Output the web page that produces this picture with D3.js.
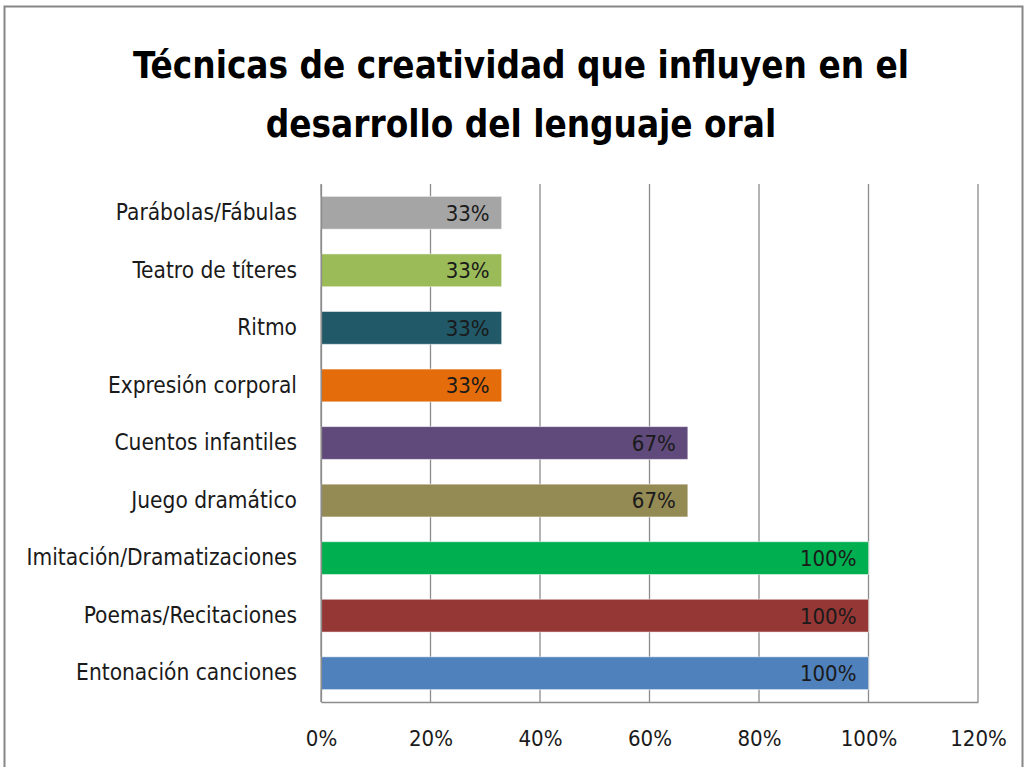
<!DOCTYPE html>
<html>
<head>
<meta charset="utf-8">
<script src="https://cdn.jsdelivr.net/npm/d3@7"></script>
<style>
  body { margin: 0; background: #fff; }
  text { font-family: "Liberation Sans Narrow", "DejaVu Sans Condensed", "Open Sans", sans-serif; }
</style>
</head>
<body>
<div id="chart"></div>
<script>
// data, top to bottom as drawn
var categories = ["Parábolas/Fábulas", "Teatro de títeres", "Ritmo", "Expresión corporal",
  "Cuentos infantiles", "Juego dramático ", "Imitación/Dramatizaciones",
  "Poemas/Recitaciones", "Entonación canciones"];
var values = [0.33, 0.33, 0.33, 0.33, 0.67, 0.67, 1.0, 1.0, 1.0];
var barColors = ["#a5a5a5", "#9bbb59", "#215968", "#e46c0a", "#604a7b",
  "#948a54", "#00b050", "#953735", "#4f81bd"];
var xTicks = [0, 0.2, 0.4, 0.6, 0.8, 1.0, 1.2];
var titleLines = ["Técnicas de creatividad que influyen en el", "desarrollo del lenguaje oral"];

var svgWidth = 1030;
var svgHeight = 767;
var margin = { top: 184, right: 52, bottom: 65, left: 321 };
var width = svgWidth - margin.left - margin.right;
var height = svgHeight - margin.top - margin.bottom;

var svg = d3.select("#chart").append("svg")
  .attr("width", svgWidth)
  .attr("height", svgHeight);

// outer chart border
svg.append("rect")
  .attr("x", 4.5).attr("y", 6.5)
  .attr("width", 1018).attr("height", 780)
  .attr("fill", "none")
  .attr("stroke", "#868686")
  .attr("stroke-width", 2);

svg.selectAll("text.title").data(titleLines).enter()
  .append("text")
  .attr("class", "title")
  .attr("x", 521)
  .attr("y", (d, i) => 78 + i * 59)
  .attr("text-anchor", "middle")
  .attr("font-size", "36.5px")
  .attr("font-weight", "bold")
  .text(d => d);

var chartGroup = svg.append("g")
  .attr("transform", `translate(${margin.left}, ${margin.top})`);

var x = d3.scaleLinear().domain([0, 1.2]).range([0, width]);
var y = d3.scaleBand().domain(categories).range([0, height]).paddingInner(0.43).paddingOuter(0.215);

// gridlines
chartGroup.selectAll("line.grid").data(xTicks).enter()
  .append("line")
  .attr("x1", d => x(d)).attr("x2", d => x(d))
  .attr("y1", 0).attr("y2", height)
  .attr("stroke", "#8c8c8c")
  .attr("stroke-width", 1.3);

// bars
chartGroup.selectAll("rect.bar").data(values).enter()
  .append("rect")
  .attr("x", 0)
  .attr("y", (d, i) => y(categories[i]))
  .attr("width", d => x(d))
  .attr("height", y.bandwidth())
  .attr("fill", (d, i) => barColors[i])
  .attr("stroke", "rgba(255,255,255,0.5)")
  .attr("stroke-width", 1);

// data labels
var fmt = d3.format(".0%");
chartGroup.selectAll("text.lbl").data(values).enter()
  .append("text")
  .attr("x", d => x(d) - 12)
  .attr("y", (d, i) => y(categories[i]) + y.bandwidth() / 2)
  .attr("dy", "0.36em")
  .attr("text-anchor", "end")
  .attr("font-size", "22px")
  .attr("fill", "#1a1a1a")
  .text(d => fmt(d));

// axes
var bottomAxis = d3.axisBottom(x).tickValues(xTicks).tickFormat(fmt).tickSize(0).tickPadding(28);
var gx = chartGroup.append("g")
  .attr("transform", `translate(0, ${height})`)
  .call(bottomAxis);
gx.select(".domain").attr("stroke", "#8c8c8c").attr("stroke-width", 1.3);
gx.selectAll("text").attr("font-size", "22px").attr("fill", "#1a1a1a");

var leftAxis = d3.axisLeft(y).tickSize(0).tickPadding(24);
var gy = chartGroup.append("g").call(leftAxis);
gy.select(".domain").attr("stroke", "#8c8c8c").attr("stroke-width", 1.3);
gy.selectAll("text").attr("font-size", "22.5px").attr("fill", "#1a1a1a");
</script>
</body>
</html>
